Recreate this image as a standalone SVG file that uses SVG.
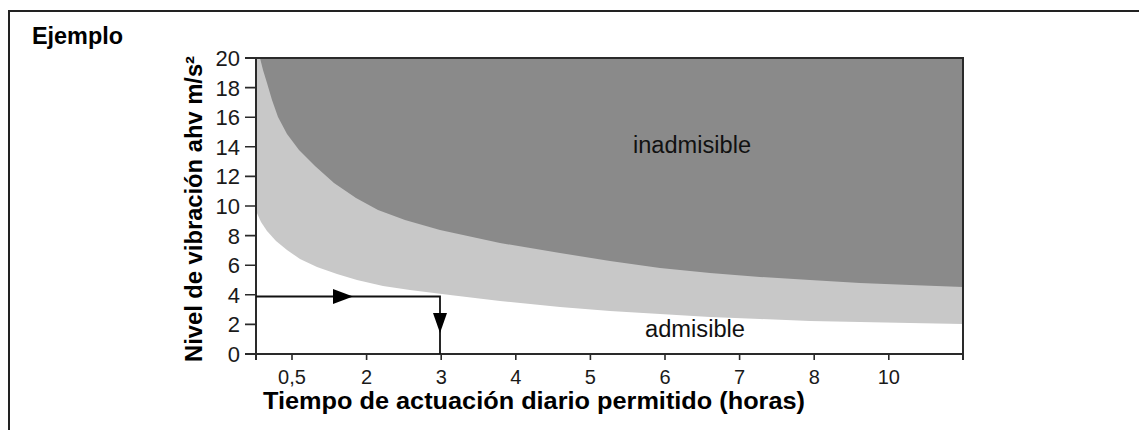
<svg xmlns="http://www.w3.org/2000/svg" width="1139" height="430" viewBox="0 0 1139 430">
<style>
.ax{stroke:#2a2a2a;stroke-width:2;fill:none}
.tk{stroke:#2a2a2a;stroke-width:1.6}
.lbl{font-family:"Liberation Sans",Arial,sans-serif;font-size:22px;fill:#1a1a1a}
.xl{font-size:20px}
.ttl{font-family:"Liberation Sans",Arial,sans-serif;font-size:23px;font-weight:bold;fill:#000}
.zone{font-family:"Liberation Sans",Arial,sans-serif;font-size:23px;fill:#111}
.ln{stroke:#111;stroke-width:1.8;fill:none}
.ah{fill:#000}
</style>
<rect x="0" y="0" width="1139" height="430" fill="#fff"/>
<rect x="9" y="11" width="1140" height="430" fill="none" stroke="#222" stroke-width="2"/>
<text class="ttl" x="32" y="44" textLength="91" lengthAdjust="spacingAndGlyphs">Ejemplo</text>
<g id="plot">
<rect x="256" y="58" width="707" height="296" fill="#fff"/>
<polygon fill="#c8c8c8" points="256,58 963,58 963,324 910,323 860,322 810,321 760,319 710,317 660,314 610,311 560,307 500,301 450,295 410,290 383,286 357,280 337,274 317,267 300,259 287,250 276,241 267,231 261,222 256,211"/>
<polygon fill="#8a8a8a" points="260,58 263,70 267,83 272,100 278,117 287,134 299,150 315,166 334,183 356,198 378,210 405,220 440,230 500,243 560,253 610,261 660,268 710,273 760,277 810,280 860,283 910,285 963,287 963,58"/>
<path class="ax" d="M245,58 H963 V360 M256,58 V360 M245,354 H963"/>
<g class="tk">
<path d="M245,324.4H256M245,294.8H256M245,265.2H256M245,235.6H256M245,206H256M245,176.4H256M245,146.8H256M245,117.2H256M245,87.6H256"/>
<path d="M292,354V360M366.6,354V360M441.2,354V360M515.8,354V360M590.4,354V360M665,354V360M739.6,354V360M814.2,354V360M888.8,354V360"/>
</g>
<g class="lbl" text-anchor="end">
<text x="240" y="362">0</text>
<text x="240" y="332.4">2</text>
<text x="240" y="302.8">4</text>
<text x="240" y="273.2">6</text>
<text x="240" y="243.6">8</text>
<text x="240" y="214">10</text>
<text x="240" y="184.4">12</text>
<text x="240" y="154.8">14</text>
<text x="240" y="125.2">16</text>
<text x="240" y="95.6">18</text>
<text x="240" y="66">20</text>
</g>
<g class="lbl xl" text-anchor="middle">
<text x="292" y="384">0,5</text>
<text x="366.6" y="384">2</text>
<text x="441.2" y="384">3</text>
<text x="515.8" y="384">4</text>
<text x="590.4" y="384">5</text>
<text x="665" y="384">6</text>
<text x="739.6" y="384">7</text>
<text x="814.2" y="384">8</text>
<text x="888.8" y="384">10</text>
</g>
<text class="ttl" x="263" y="409" font-size="21" textLength="542" lengthAdjust="spacingAndGlyphs">Tiempo de actuación diario permitido (horas)</text>
<text class="ttl" transform="translate(202,362) rotate(-90)" x="0" y="0" textLength="306" lengthAdjust="spacingAndGlyphs">Nivel de vibración ahv m/s²</text>
</g>
<g id="zone-inadmisible"><text class="zone" x="633" y="153" textLength="118" lengthAdjust="spacingAndGlyphs">inadmisible</text></g>
<g id="zone-admisible"><text class="zone" x="645" y="337" textLength="100" lengthAdjust="spacingAndGlyphs">admisible</text></g>
<g id="connectors">
<path class="ln" d="M256,296.5 H440 V354"/>
<polygon class="ah" points="333,289 353,296.5 333,304"/>
<polygon class="ah" points="433,313 447,313 440,333"/>
</g>
</svg>
